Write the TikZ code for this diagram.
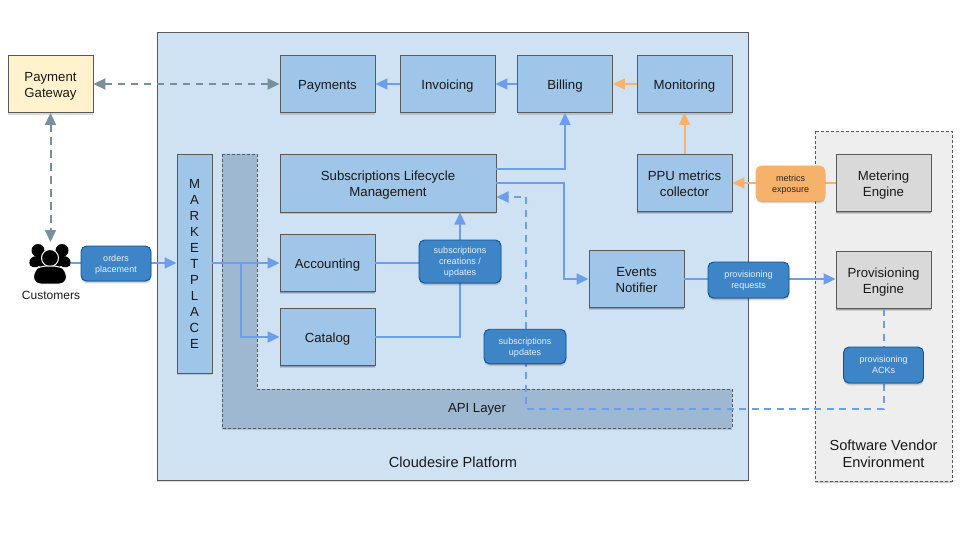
\documentclass[tikz,border=0pt]{standalone}
\usepackage{fontspec}
\setmainfont{Liberation Sans}
\usetikzlibrary{arrows.meta,shadows,calc}
\definecolor{plat}{HTML}{CFE2F3}
\definecolor{boxblue}{HTML}{9FC5E8}
\definecolor{edge}{HTML}{595959}
\definecolor{lab}{HTML}{3D85C6}
\definecolor{labedge}{HTML}{0B5394}
\definecolor{orangefill}{HTML}{F6B26B}
\definecolor{orangeline}{HTML}{F6B26B}
\definecolor{flow}{HTML}{6D9EEB}
\definecolor{greyflow}{HTML}{78909C}
\definecolor{apifill}{HTML}{9FB8D1}
\definecolor{vendor}{HTML}{EEEEEE}
\definecolor{greybox}{HTML}{D9D9D9}
\definecolor{yellowbox}{HTML}{FFF2CC}
\tikzset{
  softshadow/.style={drop shadow={shadow xshift=0pt,shadow yshift=-1pt,opacity=.2,fill=black},
                     drop shadow={shadow xshift=0.3pt,shadow yshift=-2.4pt,opacity=.14,fill=black}},
  area/.style={draw=edge,line width=.9pt,inner sep=0pt,softshadow},
  boxnode/.style={draw=edge,line width=.9pt,fill=boxblue,minimum width=95pt,minimum height=57pt,inner sep=0pt,align=center,softshadow,
    font=\fontsize{13.2}{16}\selectfont,text=black!90,execute at begin node={\rule{0pt}{14.5pt}}},
  twoline/.style={text height=30.5pt,text depth=3pt},
  greynode/.style={boxnode,twoline,fill=greybox},
  yellownode/.style={boxnode,twoline,fill=yellowbox,minimum width=85pt},
  tagnode/.style={draw=labedge,line width=.9pt,fill=lab,rounded corners=5.5pt,inner sep=0pt,align=center,softshadow,
    font=\fontsize{9}{11}\selectfont,text=white!88!lab,text height=19.5pt,text depth=2pt},
  orangetag/.style={tagnode,draw=orangeline,fill=orangefill,text=black!85},
  plain/.style={inner sep=0pt,align=center,font=\fontsize{13.2}{17}\selectfont,text=black!90},
  bigplain/.style={plain,font=\fontsize{14.6}{17}\selectfont},
  flowline/.style={draw=flow,line width=2pt,-{Triangle[length=12pt,width=11pt,fill=flow]}},
  flowplain/.style={draw=flow,line width=2pt},
  flowdash/.style={flowline,dash pattern=on 7pt off 5.5pt},
  orangeflow/.style={draw=orangeline,line width=2pt,-{Triangle[length=12pt,width=11pt,fill=orangeline]}},
  greydash/.style={draw=greyflow,line width=2pt,dash pattern=on 7.5pt off 5.5pt,
    {Triangle[length=12pt,width=11pt,fill=greyflow]}-{Triangle[length=12pt,width=11pt,fill=greyflow]}},
}
\begin{document}
\begin{tikzpicture}[x=1pt,y=-1pt]
\useasboundingbox (0,0) rectangle (960,540);
% areas
\node[area,fill=plat,minimum width=591pt,minimum height=448pt] (platform) at (452.5,256) {};
\path[draw=edge,line width=.9pt,dash pattern=on 3pt off 2pt,fill=vendor,drop shadow={shadow xshift=0pt,shadow yshift=-1.5pt,opacity=.2,fill=black}]
  (815,131) rectangle (952,481);
\path[draw=edge,line width=.9pt,dash pattern=on 3pt off 2pt,fill=apifill,drop shadow={shadow xshift=0pt,shadow yshift=-1.5pt,opacity=.2,fill=black}]
  (222,154) -- (257,154) -- (257,389) -- (732,389) -- (732,428) -- (222,428) -- cycle;
\node[plain] (apitext) at (477,409) {API Layer};
\node[bigplain] (plattext) at (453,462.5) {Cloudesire Platform};
\node[bigplain] (vendortext) at (883.5,454) {Software Vendor\\Environment};
% boxes
\node[yellownode] (gateway) at (50.5,84) {Payment\\Gateway};
\node[boxnode] (payments) at (327.5,84) {Payments};
\node[boxnode] (invoicing) at (447.5,84) {Invoicing};
\node[boxnode] (billing) at (565,84) {Billing};
\node[boxnode] (monitoring) at (684.5,84) {Monitoring};
\node[boxnode,twoline,minimum width=216pt,minimum height=58pt] (subs) at (388,183) {Subscriptions Lifecycle\\Management};
\node[boxnode,twoline] (ppu) at (684.5,183) {PPU metrics\\collector};
\node[greynode] (metering) at (883.5,183) {Metering\\Engine};
\node[boxnode,twoline] (events) at (636.5,279) {Events\\Notifier};
\node[greynode] (provisioning) at (883.5,280) {Provisioning\\Engine};
\node[boxnode] (accounting) at (327.5,263) {Accounting};
\node[boxnode] (catalog) at (327.5,337) {Catalog};
\node[boxnode,minimum width=35pt,minimum height=219pt,execute at begin node={}] (market) at (194.5,263.5) {M\\A\\R\\K\\E\\T\\P\\L\\A\\C\\E};
% customers icon
\node[inner sep=0pt,minimum width=42pt,minimum height=39pt] (customers) at (50,263) {};
\fill[black] (38,250.5) circle (6.5pt) (62,250.5) circle (6.5pt);
\fill[black,rounded corners=4pt] (29,267) -- (30,257) -- (46,255) -- (54,255) -- (70,257) -- (71,267) -- cycle;
\fill[black,draw=white,line width=1pt] (50,258) circle (8.5pt);
\fill[black,draw=white,line width=1pt,rounded corners=7pt] (33.5,284) -- (33.5,270) -- (40,266) -- (60,266) -- (66.5,270) -- (66.5,284) -- cycle;
\node[plain,font=\fontsize{12}{14}\selectfont] (custtext) at (51,295) {Customers};
% connectors
\coordinate (subsin) at (460,212.5);
\coordinate (subsb) at (496,169);
\coordinate (subse) at (496,183);
\coordinate (subsd) at (496.5,197);
\coordinate (branch) at (240.5,263);
\draw[flowline] (customers.east) -- (market.west |- customers.east);
\draw[flowline] (market.east |- accounting.west) -- (accounting.west);
\draw[flowline] (branch) |- (catalog.west);
\draw[flowplain] (accounting.east) -- (accounting.east -| subsin);
\draw[flowline] (catalog.east) -| (subsin);
\draw[flowline] (subsb) -| (billing.south);
\draw[flowline] (subse) -- (564,183) |- (events.west);
\draw[flowline] (events.east) -- (provisioning.west |- events.east);
\draw[orangeflow] (metering.west) -- (ppu.east);
\draw[orangeflow] (ppu.north) -- (monitoring.south);
\draw[orangeflow] (monitoring.west) -- (billing.east);
\draw[flowline] (billing.west) -- (invoicing.east);
\draw[flowline] (invoicing.west) -- (payments.east);
\draw[greydash] (gateway.east) -- (payments.west);
\coordinate (custtop) at (50.5,242);
\draw[greydash] (gateway.south) -- (custtop);
\draw[flowdash] (provisioning.south) -- (883.5,409) -- (526,409) -- (526,197) -- (subsd);
% tags
\node[tagnode,minimum width=70pt,minimum height=35pt] (orders) at (116,263.5) {orders\\placement};
\node[tagnode,text height=30.5pt,minimum width=82pt,minimum height=43pt] (creations) at (460,261.5) {subscriptions\\creations /\\updates};
\node[tagnode,minimum width=82pt,minimum height=34.5pt] (updates) at (525,346.5) {subscriptions\\updates};
\node[tagnode,minimum width=81pt,minimum height=36pt] (requests) at (748.5,280) {provisioning\\requests};
\node[orangetag,minimum width=69pt,minimum height=35pt] (exposure) at (790.5,183.5) {metrics\\exposure};
\node[tagnode,minimum width=80pt,minimum height=36pt] (acks) at (883.5,365) {provisioning\\ACKs};
\end{tikzpicture}
\end{document}
